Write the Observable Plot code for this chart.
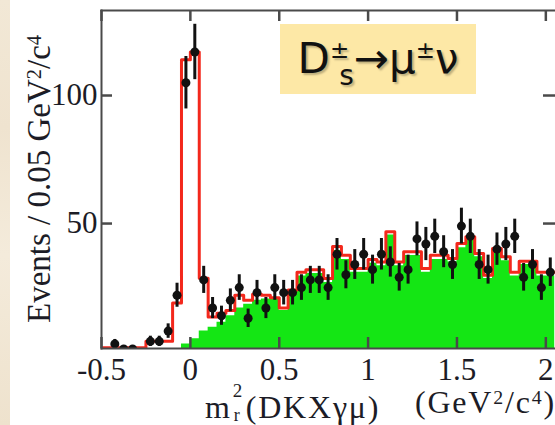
<!DOCTYPE html>
<html>
<head>
<meta charset="utf-8">
<script src="https://cdn.jsdelivr.net/npm/d3@7"></script>
<script src="https://cdn.jsdelivr.net/npm/@observablehq/plot@0.6"></script>
<style>
html, body { margin: 0; padding: 0; background: #fff; }
#wrap { position: relative; width: 555px; height: 425px; overflow: hidden; background: #fff; }
#strip { position: absolute; left: 0; top: 0; width: 10px; height: 425px;
  background: linear-gradient(180deg, #f2e8d6, #efe3cf 30%, #f4ebdb 60%, #eee2cd); }
#chart { position: absolute; left: 0; top: 0; }
.lab { position: absolute; font-family: 'Liberation Serif', serif; color: #1c1c26; white-space: pre; line-height: 1; }
#ylab { left: 23px; top: 323px; font-size: 33px; transform: rotate(-90deg); transform-origin: 0 0; }
.lab sup { font-size: 0.62em; vertical-align: 0.45em; line-height: 0; }
.xl { top: 386px; font-size: 32px; letter-spacing: 1.8px; }
#xlab1 { left: 205px; }
#xlab2 { left: 415px; }
.ss { display: inline-block; position: relative; width: 14px; height: 32px; }
.ss .sp { position: absolute; left: 1px; top: -5px; font-size: 19px; }
.ss .sb { position: absolute; left: 2px; top: 20px; font-size: 18px; }
#title { position: absolute; left: 280px; top: 24px; width: 196px; height: 70px; background: #fde8a6;
  font-family: 'DejaVu Sans', sans-serif; font-size: 42px; color: #111; line-height: 70px; text-align: center;
  text-shadow: 2px 2px 2px rgba(0,0,0,0.25); white-space: nowrap; }
#title .pm { font-size: 23px; vertical-align: 15px; line-height: 0; }
#title .s { font-size: 28px; vertical-align: -12px; line-height: 0; margin-left: -10px; }
</style>
</head>
<body>
<div id="wrap">
  <div id="strip"></div>
  <div id="chart"></div>
  <div id="title">D<span class="pm">±</span><span class="s">s</span>→μ<span class="pm">±</span>ν</div>
  <div class="lab" id="ylab">Events / 0.05 GeV<sup>2</sup>/c<sup>4</sup></div>
  <div class="lab xl" id="xlab1">m<span class="ss"><span class="sp">2</span><span class="sb">r</span></span>(DKXγμ)</div>
  <div class="lab xl" id="xlab2">(GeV<sup>2</sup>/c<sup>4</sup>)</div>
</div>
<script>
// Histogram binning
const binStart = -0.5;
const binWidth = 0.05;

// Total fit (red outline), per bin
const totalFit = [1.5, 1.5, 1.5, 1.5, 1.5, 4, 4, 4, 19, 114,
  117, 28.6, 13.5, 15, 16, 22, 20, 22.4, 22, 21,
  17, 24, 31, 32, 32, 28.5, 41, 37.6, 32.4, 32.4,
  36, 35, 46.8, 35, 39, 39, 32.4, 37.6, 37.6, 36.3,
  42.2, 44.8, 38.3, 29.8, 40.3, 37, 31, 35.3, 35.3, 31,
  31];

// Background (green fill), per bin
const background = [0, 0, 0, 0, 0, 0, 0, 0, 0, 3,
  5, 8, 9.5, 11.5, 14, 17, 18.5, 20, 20.5, 20.5,
  16, 22.5, 29.5, 30.5, 30.5, 27, 39.5, 36, 31, 31,
  34.5, 33.5, 45.5, 33.5, 37.5, 37.5, 31, 36, 36, 35,
  40.5, 43.5, 37, 28.5, 39, 35.5, 29.5, 34, 34, 29.5,
  29.5];

// Data counts (points), per bin; null = no point
const dataCounts = [null, 3, 1, 1, null, 4, 4, 8, 22, 105,
  117, 28, 17, 14, 20, 25, 13, 23, 17, 25,
  23, 23, 25, 28, 28, 25, 38, 30, 34, 38,
  32, 38, 35, 29, 32, 44, 42, 45, 39, 34,
  49, 45, 34, 32, 40, 42, 45, 29, 34, 25,
  31];

const xTicks = [-0.5, 0, 0.5, 1, 1.5, 2];
const yTicks = [50, 100];

const nBins = totalFit.length;
const edges = d3.range(nBins + 1).map(i => +(binStart + i * binWidth).toFixed(4));
const stepTotal = edges.map((e, i) => ({x: e, y: totalFit[Math.min(i, nBins - 1)]}));
const stepBg = edges.map((e, i) => ({x: e, y: background[Math.min(i, nBins - 1)]}));
const points = dataCounts
  .map((n, i) => ({x: binStart + (i + 0.5) * binWidth, n}))
  .filter(d => d.n != null);

const axisColor = "#4a4a4a";
const textColor = "#1c1c26";
const fontFamily = "'Liberation Serif', serif";

const W = 555, H = 425, mT = 10, mB = 77, mL = 101, mR = -1;
const plotW = W - mL - mR, plotH = H - mT - mB;
const tickLen = 11;

const chart = Plot.plot({
  width: W,
  height: H,
  marginTop: mT,
  marginBottom: mB,
  marginLeft: mL,
  marginRight: mR,
  x: {domain: [-0.5, 2.06], label: null},
  y: {domain: [1.2, 133.2], label: null},
  style: {fontFamily, background: "transparent", color: textColor, overflow: "visible"},
  marks: [
    Plot.areaY(stepBg, {x: "x", y: "y", curve: "step-after", fill: "#14e614", clip: true}),
    Plot.line(stepTotal, {x: "x", y: "y", curve: "step-after", stroke: "#f3281c", strokeWidth: 3, clip: true}),
    Plot.ruleX(points, {x: "x", y1: d => d.n - Math.sqrt(d.n), y2: d => d.n + Math.sqrt(d.n), stroke: "#111", strokeWidth: 3, clip: true}),
    Plot.dot(points, {x: "x", y: "n", r: 4.5, fill: "#111", clip: true}),
    Plot.frame({anchor: "left", stroke: axisColor, strokeWidth: 2}),
    Plot.frame({anchor: "top", stroke: axisColor, strokeWidth: 2}),
    Plot.frame({anchor: "bottom", stroke: axisColor, strokeWidth: 2}),
    // inward ticks (ROOT style)
    Plot.tickX(xTicks, {x: d => d, insetTop: plotH - tickLen, stroke: axisColor, strokeWidth: 2.5}),
    Plot.tickX(xTicks, {x: d => d, insetBottom: plotH - tickLen, stroke: axisColor, strokeWidth: 2.5}),
    Plot.tickY(yTicks, {y: d => d, insetRight: plotW - tickLen, stroke: axisColor, strokeWidth: 2.5}),
    Plot.tickY(yTicks, {y: d => d, insetLeft: plotW - 13, stroke: axisColor, strokeWidth: 2.5}),
    // tick labels
    Plot.axisX(xTicks, {anchor: "bottom", tickSize: 0, tickPadding: 9, tickFormat: d => String(d), fontSize: 31, fontFamily, fill: textColor, label: null}),
    Plot.axisY(yTicks, {anchor: "left", tickSize: 0, tickPadding: 4, tickFormat: d => String(d), fontSize: 31, fontFamily, fill: textColor, label: null})
  ]
});
document.getElementById("chart").appendChild(chart);
</script>
</body>
</html>
